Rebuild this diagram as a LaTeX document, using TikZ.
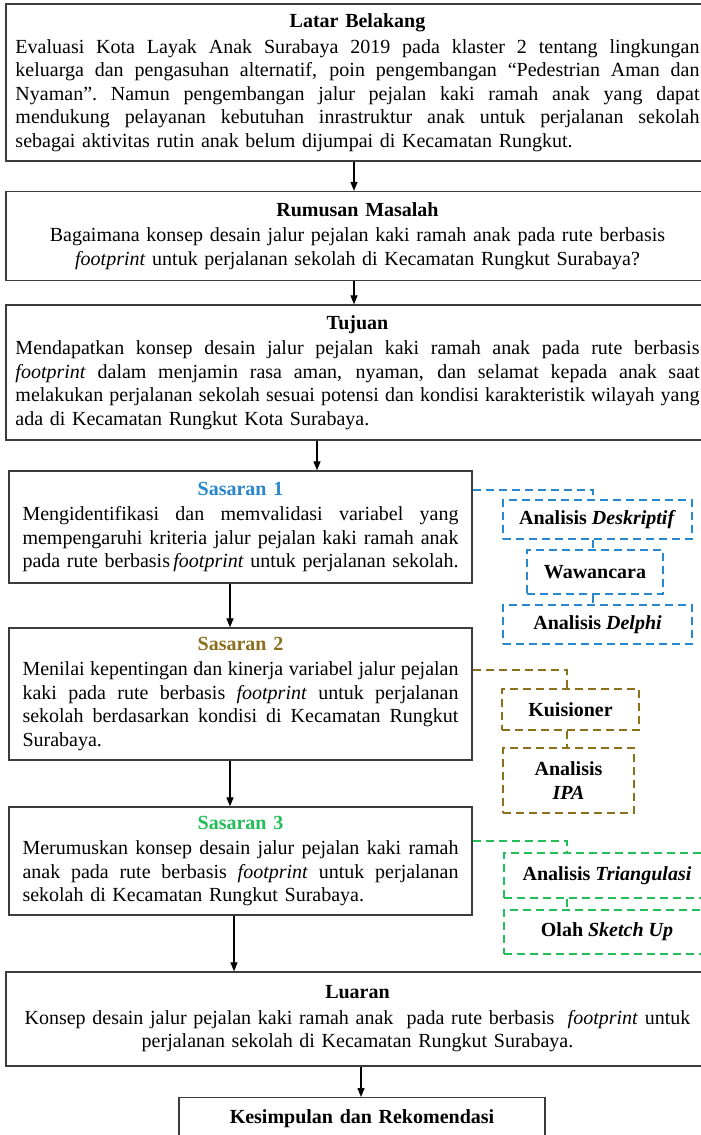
\documentclass[tikz,border=0pt]{standalone}
\usepackage{fontspec}
\setmainfont{Liberation Serif}
\usetikzlibrary{arrows.meta,calc}
\definecolor{sblue}{RGB}{40,135,205}
\definecolor{sbrown}{RGB}{140,112,30}
\definecolor{sgreen}{RGB}{35,190,90}
\definecolor{bordc}{RGB}{60,60,60}
\newcommand\jline[1]{\makebox[\linewidth][s]{\spaceskip=\fontdimen2\font plus 1fil minus \fontdimen4\font\xspaceskip=\spaceskip #1}}
\newcommand\lline[1]{\makebox[\linewidth][l]{#1}}
\begin{document}
\begin{tikzpicture}[x=1pt,y=-1pt,
  box/.style={draw=bordc, line width=1.3pt, inner xsep=4pt, inner ysep=0pt, align=center,
    font=\fontsize{20}{23.5}\selectfont},
  dbox/.style={line width=1.6pt, dash pattern=on 8pt off 5pt, inner sep=0pt, align=center,
    font=\fontsize{20}{23.5}\selectfont\bfseries},
  bbox/.style={dbox, draw=sblue},
  nbox/.style={dbox, draw=sbrown},
  gbox/.style={dbox, draw=sgreen},
  bline/.style={draw=sblue, line width=1.6pt, dash pattern=on 8pt off 5pt},
  nline/.style={draw=sbrown, line width=1.6pt, dash pattern=on 8pt off 5pt},
  gline/.style={draw=sgreen, line width=1.6pt, dash pattern=on 8pt off 5pt},
  arr/.style={draw=black, line width=1.2pt, -{Triangle[length=9pt,width=7pt]}}]
\fill[white] (0,0) rectangle (701,1135);
\useasboundingbox (0,0) rectangle (701,1135);

\node[box, minimum width=703pt, minimum height=157pt, text width=684pt] (b1) at (357.5,82.5)
{\textbf{Latar Belakang}\\[2pt]
\jline{Evaluasi Kota Layak Anak Surabaya 2019 pada klaster 2 tentang lingkungan}\\
\jline{keluarga dan pengasuhan alternatif, poin pengembangan “Pedestrian Aman dan}\\
\jline{Nyaman”. Namun pengembangan jalur pejalan kaki ramah anak yang dapat}\\
\jline{mendukung pelayanan kebutuhan inrastruktur anak untuk perjalanan sekolah}\\
\lline{sebagai aktivitas rutin anak belum dijumpai di Kecamatan Rungkut.}};

\node[box, minimum width=703pt, minimum height=89pt, text width=684pt] (b2) at (357.5,236)
{\textbf{Rumusan Masalah}\\[2pt]
Bagaimana konsep desain jalur pejalan kaki ramah anak pada rute berbasis\\
\textit{footprint} untuk perjalanan sekolah di Kecamatan Rungkut Surabaya?};

\node[box, minimum width=703pt, minimum height=135pt, text width=684pt] (b3) at (357.5,372.5)
{\textbf{Tujuan}\\[2pt]
\jline{Mendapatkan konsep desain jalur pejalan kaki ramah anak pada rute berbasis}\\
\jline{\textit{footprint} dalam menjamin rasa aman, nyaman, dan selamat kepada anak saat}\\
\jline{melakukan perjalanan sekolah sesuai potensi dan kondisi karakteristik wilayah yang}\\
\lline{ada di Kecamatan Rungkut Kota Surabaya.}};

\node[box, minimum width=463pt, minimum height=112pt, text width=436pt] (s1) at (240.5,527)
{\textcolor{sblue}{\textbf{Sasaran 1}}\\[2pt]
\jline{Mengidentifikasi dan memvalidasi variabel yang}\\
\jline{mempengaruhi kriteria jalur pejalan kaki ramah anak}\\
\jline{pada rute berbasis\,\textit{footprint} untuk perjalanan sekolah.}};

\node[box, minimum width=463pt, minimum height=132pt, text width=436pt] (s2) at (240.5,694)
{\textcolor{sbrown}{\textbf{Sasaran 2}}\\[2pt]
\jline{Menilai kepentingan dan kinerja variabel jalur pejalan}\\
\jline{kaki pada rute berbasis \textit{footprint} untuk perjalanan}\\
\jline{sekolah berdasarkan kondisi di Kecamatan Rungkut}\\
\lline{Surabaya.}};

\node[box, minimum width=463pt, minimum height=108pt, text width=436pt] (s3) at (240.5,861)
{\textcolor{sgreen}{\textbf{Sasaran 3}}\\[2pt]
\jline{Merumuskan konsep desain jalur pejalan kaki ramah}\\
\jline{anak pada rute berbasis \textit{footprint} untuk perjalanan}\\
\lline{sekolah di Kecamatan Rungkut Surabaya.}};

\node[box, minimum width=703pt, minimum height=94pt, text width=684pt] (lu) at (357.5,1019)
{\textbf{Luaran}\\[2pt]
Konsep desain jalur pejalan kaki ramah anak \ pada rute berbasis \ \textit{footprint} untuk\\
perjalanan sekolah di Kecamatan Rungkut Surabaya.};

\node[box, anchor=north, minimum width=366pt, text height=26pt, text depth=50pt, text width=350pt] (ke) at (362,1097)
{\textbf{Kesimpulan dan Rekomendasi}};

% method boxes
\node[bbox, minimum width=189pt, minimum height=39pt] (d1) at (597.5,519.5) {Analisis \textit{Deskriptif}};
\node[bbox, minimum width=136pt, minimum height=44pt] (w) at (595,572) {Wawancara};
\node[bbox, minimum width=189pt, minimum height=39pt] (d2) at (597.5,624.5) {Analisis \textit{Delphi}};
\node[nbox, minimum width=137pt, minimum height=41pt] (k) at (570.5,709.5) {Kuisioner};
\node[nbox, minimum width=131pt, minimum height=65pt] (ipa) at (568.5,780.5) {Analisis\\\textit{IPA}};
\node[gbox, minimum width=206pt, minimum height=45pt] (t) at (607,875.5) {Analisis \textit{Triangulasi}};
\node[gbox, minimum width=206pt, minimum height=44pt] (o) at (607,932) {Olah \textit{Sketch Up}};

% dashed connectors
\draw[bline] ([yshift=37pt]s1.east) -| ([xshift=-4.5pt]d1.north);
\draw[bline] ([xshift=-4.5pt]d1.south) -- ([xshift=-4.5pt]d1.south |- w.north);
\draw[bline] ([xshift=-2pt]w.south) -- ([xshift=-2pt]w.south |- d2.north);
\draw[nline] ([yshift=24pt]s2.east) -| ([xshift=-3.5pt]k.north);
\draw[nline] ([xshift=-3.5pt]k.south) -- ([xshift=-3.5pt]k.south |- ipa.north);
\draw[gline] ([yshift=20pt]s3.east) -| ([xshift=-40pt]t.north);
\draw[gline] ([xshift=-40pt]t.south) -- ([xshift=-40pt]t.south |- o.north);

% arrows
\draw[arr] ([xshift=-3.5pt]b1.south) -- ([xshift=-3.5pt]b2.north);
\draw[arr] ([xshift=-3.5pt]b2.south) -- ([xshift=-3.5pt]b3.north);
\draw[arr] ([xshift=-40.5pt]b3.south) -- ([xshift=-40.5pt]b3.south |- s1.north);
\draw[arr] ([xshift=-10.5pt]s1.south) -- ([xshift=-10.5pt]s2.north);
\draw[arr] ([xshift=-10.5pt]s2.south) -- ([xshift=-10.5pt]s3.north);
\draw[arr] ([xshift=-6.5pt]s3.south) -- ([xshift=-6.5pt]s3.south |- lu.north);
\draw[arr] ([xshift=3.5pt]lu.south) -- ([xshift=3.5pt]lu.south |- ke.north);
\end{tikzpicture}
\end{document}
